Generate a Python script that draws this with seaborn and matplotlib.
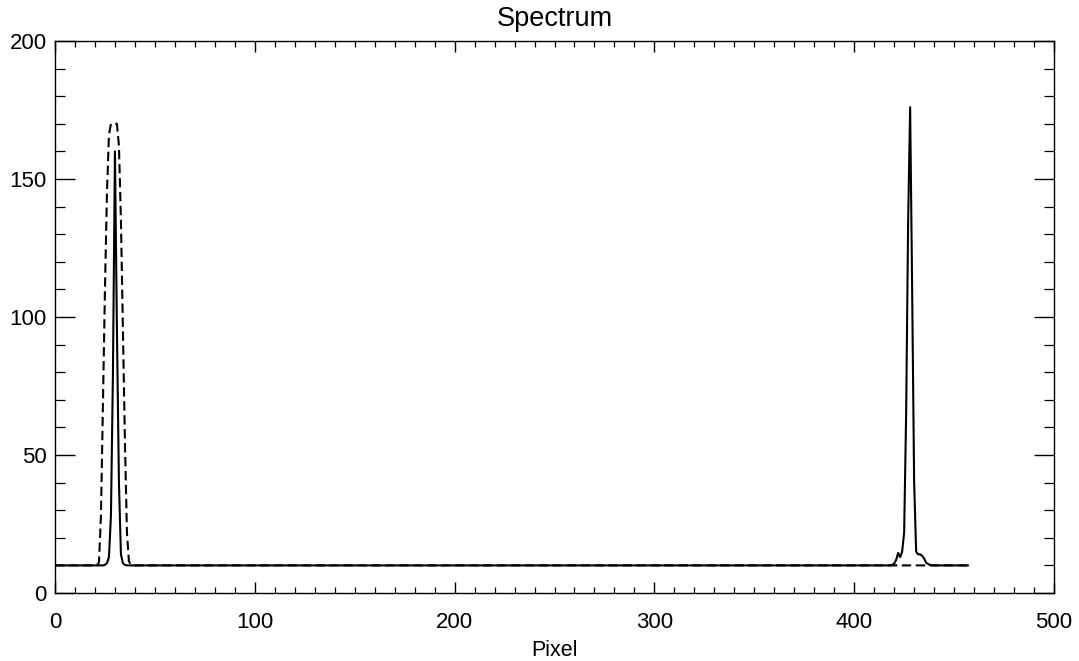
import numpy as np
import pandas as pd
import matplotlib
matplotlib.use("Agg")
import matplotlib.pyplot as plt
from matplotlib.ticker import MultipleLocator
import seaborn as sns

# Detector pixels and flat continuum level
n_pixels = 458
baseline = 10.0

# Measured spectrum (solid): emission features near pixel 30 and pixel 428
meas_pix = [25, 26, 27, 28, 29, 30, 31, 32, 33, 34, 35,
            419, 420, 421, 422, 423, 424, 425, 426, 427, 428, 429, 430,
            431, 432, 433, 434, 435, 436, 437, 438]
meas_val = [10.2, 10.8, 13, 28, 80, 160, 95, 40, 14, 10.8, 10.2,
            10.2, 10.6, 12, 14.5, 13, 15, 22, 65, 135, 176, 110, 40,
            15, 14, 14, 13.5, 12.5, 11, 10.5, 10.2]

# Model spectrum (dashed): broad flat-topped line near pixel 30
model_pix = [21, 22, 23, 24, 25, 26, 27, 28, 29, 30, 31, 32, 33, 34, 35, 36, 37, 38]
model_val = [10.2, 11, 28, 68, 110, 145, 166, 170, 170, 170, 170, 162, 135, 95, 55, 22, 11.5, 10.2]

pixel = np.arange(n_pixels)
measured = np.full(n_pixels, baseline)
measured[meas_pix] = meas_val
model = np.full(n_pixels, baseline)
model[model_pix] = model_val

df = pd.DataFrame({"Pixel": np.concatenate([pixel, pixel]),
                   "Counts": np.concatenate([model, measured]),
                   "Series": ["model"] * n_pixels + ["measured"] * n_pixels})

sns.set_style("white")
plt.rcParams["font.family"] = ["Liberation Sans", "DejaVu Sans"]
plt.rcParams["text.color"] = "black"
plt.rcParams["axes.labelcolor"] = "black"
plt.rcParams["xtick.color"] = "black"
plt.rcParams["ytick.color"] = "black"

fig = plt.figure(figsize=(10.79, 6.61), dpi=100)
ax = fig.add_axes([55 / 1079, 1 - 593 / 661, (1054 - 55) / 1079, (593 - 41) / 661])

sns.lineplot(data=df, x="Pixel", y="Counts", hue="Series", style="Series",
             palette={"model": "black", "measured": "black"},
             dashes={"model": (4.5, 2.2), "measured": ""},
             linewidth=1.5, legend=False, ax=ax, estimator=None, sort=False)

ax.set_xlim(0, 500)
ax.set_ylim(0, 200)
ax.xaxis.set_major_locator(MultipleLocator(100))
ax.xaxis.set_minor_locator(MultipleLocator(10))
ax.yaxis.set_major_locator(MultipleLocator(50))
ax.yaxis.set_minor_locator(MultipleLocator(10))

for s in ax.spines.values():
    s.set_color("black")
    s.set_linewidth(1.0)

ax.tick_params(axis="x", which="major", direction="in", top=True, bottom=True,
               length=8, width=1.0, pad=14, labelsize=16, labelcolor="black")
ax.tick_params(axis="x", which="minor", direction="in", top=True, bottom=True,
               length=4, width=0.9)
ax.tick_params(axis="y", which="major", direction="in", left=True, right=True,
               length=14.5, width=1.0, pad=6, labelsize=16, labelcolor="black")
ax.tick_params(axis="y", which="minor", direction="in", left=True, right=True,
               length=7.2, width=0.9)

ax.set_xlabel("Pixel", fontsize=15.5, labelpad=5, color="black")
ax.set_ylabel("")
ax.set_title("Spectrum", fontsize=19.5, pad=11, color="black")

fig.savefig("out.png", dpi=100)
